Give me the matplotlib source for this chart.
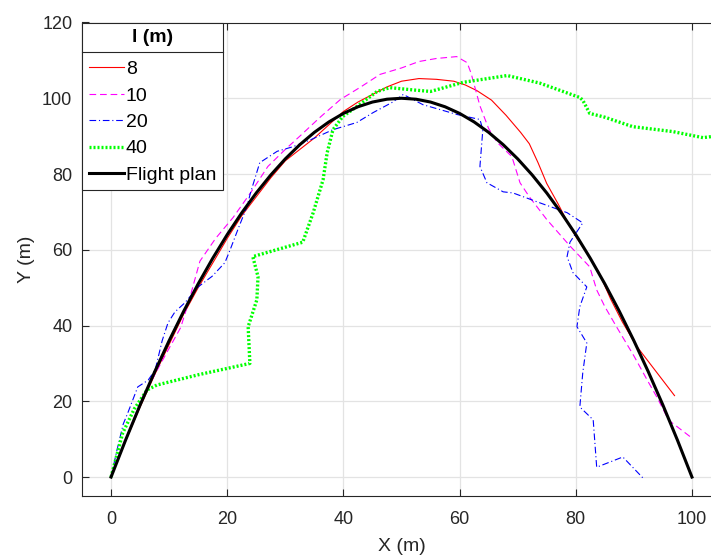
import matplotlib

matplotlib.use("Agg")
import matplotlib.pyplot as plt
from matplotlib.lines import Line2D

plt.rcParams["font.family"] = ["Liberation Sans", "DejaVu Sans"]

OUTPUT_PATH = "out.png"

# flight plan
PLAN_X = [0, 2.5, 5, 7.5, 10, 12.5, 15, 17.5, 20, 22.5, 25, 27.5, 30, 32.5, 35, 37.5, 40, 42.5, 45, 47.5,
          50, 52.5, 55, 57.5, 60, 62.5, 65, 67.5, 70, 72.5, 75, 77.5, 80, 82.5, 85, 87.5, 90, 92.5, 95, 97.5, 100]
PLAN_Y = [0, 9.75, 19, 27.75, 36, 43.75, 51, 57.75, 64, 69.75, 75, 79.75, 84, 87.75, 91, 93.75, 96, 97.75, 99, 99.75,
          100, 99.75, 99, 97.75, 96, 93.75, 91, 87.75, 84, 79.75, 75, 69.75, 64, 57.75, 51, 43.75, 36, 27.75, 19, 9.75, 0]

# l = 8 m
L8_X = [0, 2.5, 5, 7.5, 10, 12.5, 15, 17.5, 20, 22.5, 25, 27.5, 30, 32.5, 35, 37.5, 40, 42.5, 45, 47.5, 50, 53, 56,
        59, 61, 63, 65.5, 68, 70.5, 72, 73.5, 75, 77, 78.5, 80, 82, 84, 86, 88, 90.5, 93, 95, 97]
L8_Y = [0, 9.5, 18.5, 27, 35, 43, 50, 56.5, 63, 69, 74, 79, 83.5, 86.5, 89.5, 93, 96.5, 99, 101, 103, 104.5, 105.2,
        105, 104.5, 103.5, 102, 99.5, 95.5, 91, 88, 83, 77.5, 72, 67.5, 63.5, 59, 54, 47, 41, 34.5, 29.5, 25.5, 21.5]

# l = 10 m
L10_X = [0, 2.5, 5, 7.5, 10, 12, 13.5, 15.3, 18, 21, 24, 27, 30, 32.5, 36, 39.5, 43, 46.3, 50, 53, 56, 59.5, 61.3,
         62, 63.5, 65, 66.5, 69, 70.4, 72, 75, 79, 82.4, 83.6, 85, 87, 90, 92.3, 94, 96, 100]
L10_Y = [0, 10, 19.5, 27, 34, 39.5, 47, 57, 63, 68.5, 75, 82, 86.5, 90, 95, 99.7, 103, 106.3, 108, 109.7, 110.5, 111,
         109.4, 106.5, 98, 92, 88.3, 84.6, 77.7, 74, 68, 61, 55.5, 49.4, 45, 39.7, 32, 25.6, 21, 15, 10.3]

# l = 20 m
L20_X = [0, 1, 2.1, 2.9, 4.6, 6.4, 7.6, 8.8, 9.8, 11, 12.7, 15, 17.4, 19.6, 20.5, 22, 23.4, 24, 25.6, 28.6, 31.3,
         34.3, 38.2, 42.3, 45.1, 48.5, 50.3, 53.7, 59.6, 63.5, 64, 63.5, 64.7, 67.5, 69.2, 73.8, 78.5, 81.2, 79,
         78.5, 79.5, 81.9, 80.7, 80.2, 81.9, 81.2, 80.7, 83, 83.6, 88.1, 91.6]
L20_Y = [0, 7, 14, 17, 23.8, 25.6, 28.3, 36, 40.7, 43.6, 46, 50.2, 53, 56.6, 60, 66, 71.4, 75, 83, 86, 87.2,
         89, 91.7, 93.6, 96.2, 99, 101, 98.3, 95.7, 94.4, 91.7, 82, 77.7, 75.3, 75, 72.4, 69.8, 67.1, 62,
         58.2, 54, 50.2, 45, 39.7, 35.4, 27.5, 18.5, 15.1, 2.6, 5.3, -0.3]

# l = 40 m
L40_X = [0, 2, 4, 6.2, 7.9, 15, 23.9, 23.6, 25.1, 25.3, 24.4, 33, 34.8, 36.5, 37.2, 38.2, 39.9, 42.3, 45.8, 48,
         52, 55, 60.6, 68.2, 73.8, 80.7, 81.2, 82.4, 85, 89.8, 96.7, 101.9, 104]
L40_Y = [0, 11.6, 18, 23, 24.3, 27, 30, 39.7, 46.8, 52.9, 58.2, 62, 69.8, 78.5, 85.6, 91.7, 95.2, 97.8, 101.8, 102.8,
         102.2, 101.8, 104.2, 106, 104, 100.2, 99.5, 96, 95, 92.5, 91.2, 89.6, 90]

SERIES = [
    ("8", L8_X, L8_Y, dict(color="#FF0000", linestyle="-", linewidth=0.8)),
    ("10", L10_X, L10_Y, dict(color="#FF00FF", linestyle=(0, (6, 3.5)), linewidth=0.8)),
    ("20", L20_X, L20_Y, dict(color="#0000FF", linestyle=(0, (6, 2.5, 1, 2.5)), linewidth=0.8)),
    ("40", L40_X, L40_Y, dict(color="#00FF00", linestyle=(0, (0.6, 0.6)), linewidth=2.4)),
    ("Flight plan", PLAN_X, PLAN_Y, dict(color="black", linestyle="-", linewidth=2.2)),
]

AX_COLOR = "#262626"


def main() -> None:
    fig = plt.figure(figsize=(7.11, 5.56), dpi=100)
    ax = fig.add_axes([82 / 711, 60 / 556, 639 / 711, 473.5 / 556])

    for label, xs, ys, style in SERIES:
        ax.plot(xs, ys, label=label, **style)

    ax.set_xlim(-5, 105)
    ax.set_ylim(-5, 120)
    ax.set_xticks(range(0, 101, 20))
    ax.set_yticks(range(0, 121, 20))
    ax.grid(True, color="#E3E3E3", linewidth=0.9)
    ax.set_axisbelow(True)
    ax.tick_params(direction="in", length=5, width=0.8, colors=AX_COLOR, labelsize=13,
                   top=True, right=False, pad=7)
    ax.tick_params(axis="x", pad=11)
    for side in ["left", "bottom", "top"]:
        ax.spines[side].set_color(AX_COLOR)
        ax.spines[side].set_linewidth(0.8)
    ax.spines["right"].set_visible(False)

    ax.set_xlabel("X (m)", fontsize=14, color=AX_COLOR, labelpad=7)
    ax.set_ylabel("Y (m)", fontsize=14, color=AX_COLOR, labelpad=5)

    leg = ax.legend(
        title="l (m)",
        loc="upper left",
        borderaxespad=0,
        fontsize=14,
        title_fontproperties={"weight": "bold", "size": 14},
        fancybox=False,
        framealpha=1,
        edgecolor=AX_COLOR,
        handlelength=1.8,
        handletextpad=0.1,
        labelspacing=0.45,
        borderpad=0.35,
    )
    leg.get_frame().set_linewidth(0.8)
    leg.get_title().set_color("black")
    # a bit more room between the title and the entries, as in MATLAB
    leg._legend_box.sep += 4

    # MATLAB-style separator under the legend title
    fig.canvas.draw()
    frame = leg.get_frame().get_window_extent()
    title_box = leg.get_title().get_window_extent()
    y_sep = title_box.y0 - 6
    inv = fig.transFigure.inverted()
    (x0, y0), (x1, _) = inv.transform([(frame.x0, y_sep), (frame.x1, y_sep)])
    fig.add_artist(Line2D([x0, x1], [y0, y0], color=AX_COLOR, linewidth=0.8, transform=fig.transFigure))

    fig.savefig(OUTPUT_PATH, dpi=100)
    plt.close(fig)


if __name__ == "__main__":
    main()
